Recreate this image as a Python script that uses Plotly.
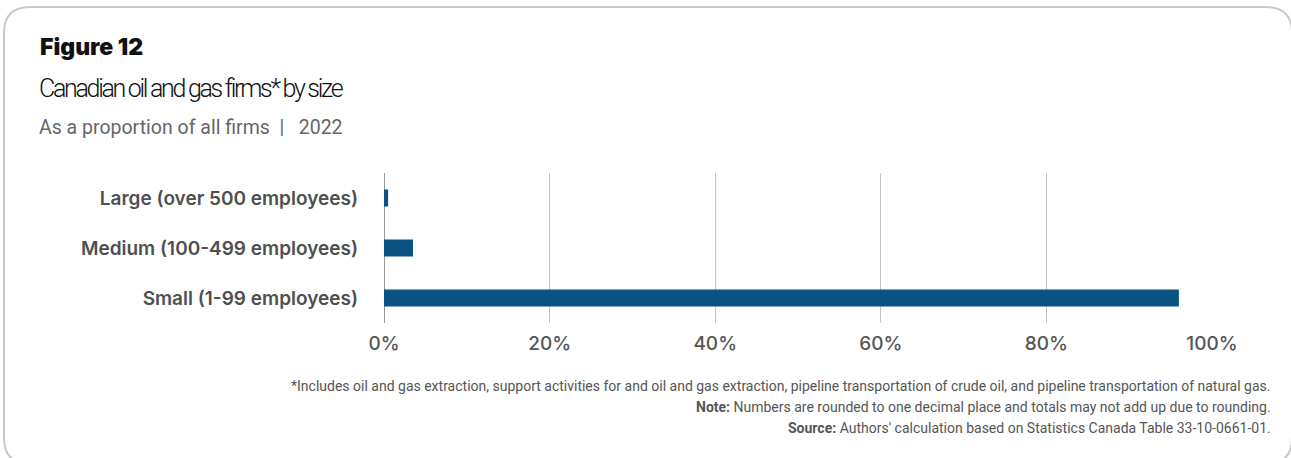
import plotly.graph_objects as go

categories = ["Large (over 500 employees)", "Medium (100-499 employees)", "Small (1-99 employees)"]
values = [0.5, 3.5, 96.0]
tick_vals = [0, 20, 40, 60, 80, 100]
tick_text = ["0%", "20%", "40%", "60%", "80%", "100%"]

W, H = 1291, 458
L, R, T, B = 384, 1212, 173, 323
FONT = "Inter"

def px(x):
    return (x - L) / (R - L)

def py(y):
    return (B - y) / (B - T)

fig = go.Figure()
fig.add_trace(go.Bar(
    x=values, y=categories, orientation="h",
    marker=dict(color="#0a5281", line=dict(width=0)),
    width=0.34, hoverinfo="x+y",
))

fig.update_layout(
    width=W, height=H,
    margin=dict(l=L, r=W - R, t=T, b=H - B, pad=0),
    paper_bgcolor="white", plot_bgcolor="white",
    showlegend=False,
    font=dict(family=FONT, color="#555555"),
)
fig.update_xaxes(
    range=[0, 100], tickvals=tick_vals, ticktext=tick_text,
    showgrid=True, gridcolor="#c4c4c4", gridwidth=1,
    zeroline=True, zerolinecolor="#9a9a9a", zerolinewidth=1,
    showline=False, ticks="", ticklabelstandoff=7,
    tickfont=dict(family=FONT, size=19, color="#555555", weight=500),
    fixedrange=True,
)
fig.update_yaxes(
    categoryorder="array", categoryarray=categories, autorange="reversed",
    showgrid=False, zeroline=False, showline=False, ticks="",
    ticklabelstandoff=25,
    tickfont=dict(family=FONT, size=19, color="#4f4f4f", weight=600),
    fixedrange=True,
)

# rounded border
x0, x1, y0, y1, r = 4, 1292, 7, 464, 26
path = (
    f"M {px(x0 + r)},{py(y0)} L {px(x1 - r)},{py(y0)} "
    f"Q {px(x1)},{py(y0)} {px(x1)},{py(y0 + r)} "
    f"L {px(x1)},{py(y1 - r)} Q {px(x1)},{py(y1)} {px(x1 - r)},{py(y1)} "
    f"L {px(x0 + r)},{py(y1)} Q {px(x0)},{py(y1)} {px(x0)},{py(y1 - r)} "
    f"L {px(x0)},{py(y0 + r)} Q {px(x0)},{py(y0)} {px(x0 + r)},{py(y0)} Z"
)
fig.add_shape(type="path", path=path, xref="paper", yref="paper",
              line=dict(color="#c9c9c9", width=2), fillcolor="rgba(0,0,0,0)", layer="below")

def ann(text, x, y, size, color, weight=400, xanchor="left", family=FONT):
    fig.add_annotation(text=text, x=px(x), y=py(y), xref="paper", yref="paper",
                       xanchor=xanchor, yanchor="middle", align=xanchor, showarrow=False,
                       font=dict(family=family, size=size, color=color, weight=weight))

ann("Figure 12", 38, 47, 23, "#111111", 900)
ann('<span style="letter-spacing:-2.3px">Canadian oil and gas firms* by size</span>',
    37, 89, 25, "#111111", 300, family="Roboto")
ann("As a proportion of all firms  |   2022", 37, 127, 19.5, "#666666", 400, family="Roboto")

foot = [
    "*Includes oil and gas extraction, support activities for and oil and gas extraction, pipeline transportation of crude oil, and pipeline transportation of natural gas.",
    "<b>Note:</b> Numbers are rounded to one decimal place and totals may not add up due to rounding.",
    "<b>Source:</b> Authors' calculation based on Statistics Canada Table 33-10-0661-01.",
]
for i, t in enumerate(foot):
    ann(t, 1273, 386 + 21 * i, 14, "#555555", 400, xanchor="right", family="Roboto")

fig.write_html("out.html", config={"displayModeBar": False},
               post_script="document.body.style.margin='0';")
